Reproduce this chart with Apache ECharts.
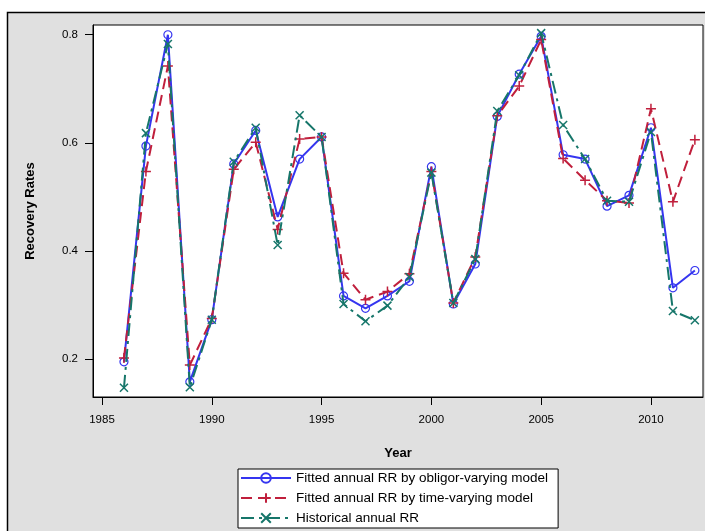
<!DOCTYPE html>
<html>
<head>
<meta charset="utf-8">
<script src="https://cdn.jsdelivr.net/npm/echarts@6/dist/echarts.min.js"></script>
<style>html,body{margin:0;padding:0;background:#fff;}#c{width:705px;height:531px;}</style>
</head>
<body>
<div id="c"></div>
<script>
var years = [1986,1987,1988,1989,1990,1991,1992,1993,1994,1995,1996,1997,1998,1999,2000,2001,2002,2003,2004,2005,2006,2007,2008,2009,2010,2011,2012];
var obligorRR = [0.195,0.594,0.800,0.158,0.273,0.561,0.623,0.463,0.570,0.611,0.317,0.294,0.317,0.344,0.556,0.302,0.376,0.649,0.727,0.797,0.578,0.570,0.483,0.503,0.628,0.332,0.364];
var timeRR = [0.202,0.547,0.742,0.189,0.275,0.551,0.601,0.440,0.607,0.611,0.359,0.310,0.325,0.358,0.547,0.304,0.389,0.650,0.705,0.791,0.571,0.531,0.493,0.489,0.663,0.491,0.606];
var histRR = [0.147,0.618,0.783,0.148,0.273,0.565,0.628,0.411,0.651,0.611,0.302,0.270,0.299,0.352,0.545,0.304,0.385,0.659,0.725,0.803,0.633,0.570,0.493,0.491,0.620,0.289,0.272];
var xTicks = [1985,1990,1995,2000,2005,2010];
var yTicks = [0.2,0.4,0.6,0.8];
var names = ['Fitted annual RR by obligor-varying model','Fitted annual RR by time-varying model','Historical annual RR'];

function pairs(vals){ return years.map(function(y,i){ return [y, vals[i]]; }); }

var BLUE = '#3535f0', RED = '#c01f3c', GREEN = '#16766a';
var FONT = 'Liberation Sans';
var chart = echarts.init(document.getElementById('c'), null, {renderer:'canvas'});
chart.setOption({
  animation: false,
  backgroundColor: '#ffffff',
  textStyle: {fontFamily: FONT},
  graphic: [{type:'rect', z:-10, silent:true, shape:{x:7.5,y:12.5,width:720,height:540},
    style:{fill:'#e0e0e0', stroke:'#000', lineWidth:1.5}}],
  grid: {left:93, top:25, width:610, height:372, show:true, backgroundColor:'#ffffff', borderColor:'#000', borderWidth:1},
  xAxis: {type:'value', min:1984.59, max:2012.37,
    name:'Year', nameLocation:'middle', nameGap:50,
    nameTextStyle:{fontSize:13, fontWeight:'bold', color:'#000', fontFamily:FONT},
    axisLine:{show:true, lineStyle:{color:'#000'}},
    axisTick:{show:true, length:8, customValues:xTicks, lineStyle:{color:'#000'}},
    axisLabel:{customValues:xTicks, color:'#000', fontSize:11.5, margin:17, fontFamily:FONT,
      formatter:function(v){ return String(Math.round(v)); }},
    splitLine:{show:false}},
  yAxis: {type:'value', min:0.13, max:0.818,
    name:'Recovery Rates', nameLocation:'middle', nameGap:56,
    nameTextStyle:{fontSize:13, fontWeight:'bold', color:'#000', fontFamily:FONT},
    axisLine:{show:true, lineStyle:{color:'#000'}},
    axisTick:{show:true, length:8, customValues:yTicks, lineStyle:{color:'#000'}},
    axisLabel:{customValues:yTicks, color:'#000', fontSize:11.5, margin:15, fontFamily:FONT,
      formatter:function(v){ return v.toFixed(1); }},
    splitLine:{show:false}},
  legend: {left:238, top:469, height:80, orient:'vertical', itemWidth:50, itemHeight:12, itemGap:6,
    padding:[2,10,3,2], borderColor:'#000', borderWidth:1, backgroundColor:'#ffffff',
    textStyle:{fontSize:13.5, lineHeight:14, color:'#000', fontFamily:FONT},
    data: names},
  series: [
    {name:names[0], type:'line', data:pairs(obligorRR), symbol:'circle', symbolSize:8,
      itemStyle:{color:'rgba(0,0,0,0)', borderColor:BLUE, borderWidth:1.2},
      lineStyle:{color:BLUE, width:2}, z:2},
    {name:names[1], type:'line', data:pairs(timeRR), symbol:'path://M0,-1L0,1M-1,0L1,0', symbolSize:10,
      itemStyle:{color:'rgba(0,0,0,0)', borderColor:RED, borderWidth:1.5},
      lineStyle:{color:RED, width:2, type:[11,6]}, z:3},
    {name:names[2], type:'line', data:pairs(histRR), symbol:'path://M-1,-1L1,1M-1,1L1,-1', symbolSize:8,
      itemStyle:{color:'rgba(0,0,0,0)', borderColor:GREEN, borderWidth:1.5},
      lineStyle:{color:GREEN, width:2, type:[13,5,3,5]}, z:4}
  ]
});
</script>
</body>
</html>
